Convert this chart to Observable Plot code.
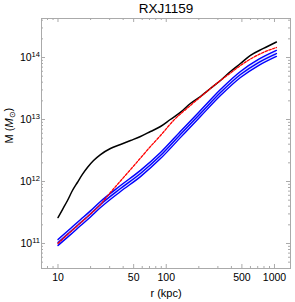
<!DOCTYPE html>
<html><head><meta charset="utf-8">
<script src="https://cdn.jsdelivr.net/npm/d3@7"></script>
<script src="https://cdn.jsdelivr.net/npm/@observablehq/plot@0.6"></script>
<style>html,body{margin:0;padding:0;background:#fff} svg{display:block}</style>
</head><body><div id="chart"></div>
<script>
const title = "RXJ1159";
const xLabel = "r (kpc)";
const yLabelPrefix = "M (";
const yLabelUnit = "M";
const yLabelSub = "⊙";
const yLabelSuffix = ")";

// total mass (black)
const blackR = [10, 11.0, 12.24, 13.6, 15.1, 16.8, 18.7, 21.3, 24.7, 30.5, 37.8, 46.8, 57.8, 71.5, 88.5, 109, 135, 167, 207, 256, 317, 392, 485, 600, 791, 1042];
const blackM = [2.62e11, 3.53e11, 4.94e11, 7.16e11, 9.64e11, 1.30e12, 1.68e12, 2.18e12, 2.72e12, 3.41e12, 3.95e12, 4.58e12, 5.32e12, 6.40e12, 7.71e12, 1.0e13, 1.30e13, 1.81e13, 2.35e13, 3.16e13, 4.26e13, 5.94e13, 8.0e13, 1.08e14, 1.40e14, 1.78e14];

// red dashed
const redR = [10, 13.05, 16.1, 19.95, 24.7, 30.5, 37.8, 46.8, 57.8, 71.5, 88.5, 116.7, 167, 207, 256, 317, 392, 485, 600, 791, 1042];
const redM = [1.0e11, 1.54e11, 2.14e11, 2.99e11, 4.26e11, 6.65e11, 1.02e12, 1.56e12, 2.39e12, 3.67e12, 5.52e12, 9.64e12, 1.68e13, 2.31e13, 3.16e13, 4.26e13, 5.62e13, 7.43e13, 9.46e13, 1.21e14, 1.45e14];

// blue band (three lines)
const blueR = [10, 13.05, 16.1, 19.95, 24.7, 37.8, 57.8, 88.5, 135, 207, 317, 485, 711, 1042];
const blueHi = [1.16e11, 1.75e11, 2.42e11, 3.36e11, 4.77e11, 8.6e11, 1.51e12, 2.93e12, 6.4e12, 1.4e13, 3.05e13, 5.96e13, 9.3e13, 1.30e14];
const blueMid = [1.04e11, 1.56e11, 2.16e11, 3.0e11, 4.26e11, 7.71e11, 1.35e12, 2.62e12, 5.73e12, 1.25e13, 2.72e13, 5.32e13, 8.30e13, 1.16e14];
const blueLo = [9.3e10, 1.39e11, 1.93e11, 2.68e11, 3.8e11, 6.9e11, 1.2e12, 2.34e12, 5.1e12, 1.12e13, 2.43e13, 4.75e13, 7.4e13, 1.04e14];

// ticks
const xDomain = [7.04, 1406];
const yDomain = [3.95e10, 4.26e14];
const xMajor = [10, 50, 100, 500, 1000];
const xMinor = [8, 9, 20, 30, 40, 60, 70, 80, 90, 200, 300, 400, 600, 700, 800, 900];
const yMajor = [1e11, 1e12, 1e13, 1e14];
const yMinor = [5e10, 6e10, 7e10, 8e10, 9e10, 2e11, 3e11, 4e11, 5e11, 6e11, 7e11, 8e11, 9e11,
  2e12, 3e12, 4e12, 5e12, 6e12, 7e12, 8e12, 9e12, 2e13, 3e13, 4e13, 5e13, 6e13, 7e13, 8e13, 9e13, 2e14, 3e14, 4e14];

const W = 295, H = 302, mL = 41, mR = 5, mT = 18, mB = 34;
const innerW = W - mL - mR, innerH = H - mT - mB;
const font = "'Liberation Sans', Arial, sans-serif";
const grey = "#aaaaaa";

const rows = (rs, ms) => rs.map((r, i) => ({r, m: ms[i]}));
const band = blueR.map((r, i) => ({r, lo: blueLo[i], hi: blueHi[i]}));

const tickMarks = (vals, len, axis) => axis === "x"
  ? [Plot.tickX(vals, {x: d => d, stroke: grey, insetTop: innerH - len}),
     Plot.tickX(vals, {x: d => d, stroke: grey, insetBottom: innerH - len})]
  : [Plot.tickY(vals, {y: d => d, stroke: grey, insetRight: innerW - len}),
     Plot.tickY(vals, {y: d => d, stroke: grey, insetLeft: innerW - len})];

const chart = Plot.plot({
  width: W, height: H,
  marginLeft: mL, marginRight: mR, marginTop: mT, marginBottom: mB,
  style: {fontFamily: font, fontSize: "10.5px", color: "#000", background: "#fff", overflow: "visible"},
  x: {type: "log", domain: xDomain, axis: null},
  y: {type: "log", domain: yDomain},
  marks: [
    Plot.areaY(band, {x: "r", y1: "lo", y2: "hi", fill: "#dfe3ff", curve: "monotone-x"}),
    Plot.line(rows(blueR, blueHi), {x: "r", y: "m", stroke: "#0000ff", strokeWidth: 1.4, curve: "monotone-x"}),
    Plot.line(rows(blueR, blueMid), {x: "r", y: "m", stroke: "#0000ff", strokeWidth: 1.4, curve: "monotone-x"}),
    Plot.line(rows(blueR, blueLo), {x: "r", y: "m", stroke: "#0000ff", strokeWidth: 1.4, curve: "monotone-x"}),
    Plot.line(rows(blackR, blackM), {x: "r", y: "m", stroke: "#000", strokeWidth: 1.5, curve: "monotone-x"}),
    Plot.line(rows(redR, redM), {x: "r", y: "m", stroke: "#ff0000", strokeWidth: 1.3, strokeDasharray: "2.5,1.5", curve: "monotone-x"}),
    Plot.frame({stroke: grey}),
    ...tickMarks(xMajor, 4, "x"),
    ...tickMarks(xMinor, 2, "x"),
    ...tickMarks(yMajor, 4, "y"),
    ...tickMarks(yMinor, 2, "y"),
    Plot.text(xMajor, {x: d => d, text: d => String(d), frameAnchor: "bottom", lineAnchor: "middle", dy: 9.5, fontSize: 10.5, fill: "#000"}),
    Plot.axisY({ticks: yMajor, tickSize: 0, tickPadding: 1.5, tickFormat: d => String(Math.round(Math.log10(d))), label: null, fontSize: 10.5}),
    Plot.text([title], {frameAnchor: "top", lineAnchor: "middle", dy: -9.5, fontSize: 13.5, fill: "#000"}),
    Plot.text([xLabel], {frameAnchor: "bottom", lineAnchor: "middle", dy: 25, fontSize: 11, fill: "#000"}),
    Plot.text([yLabelPrefix], {frameAnchor: "left", lineAnchor: "middle", dx: -32, rotate: -90, fontSize: 11, fill: "#000"})
  ]
});
document.getElementById("chart").appendChild(chart);

const svg = d3.select(chart);
svg.selectAll('g[aria-label="y-axis tick label"] text').each(function () {
  const t = d3.select(this);
  const e = t.text();
  t.text("");
  t.append("tspan").text("10");
  t.append("tspan").attr("dy", "-0.45em").attr("font-size", "0.72em").text(e);
});
svg.selectAll("text").filter(function () { return this.textContent === yLabelPrefix; }).each(function () {
  const t = d3.select(this);
  t.text("");
  t.append("tspan").text(yLabelPrefix);
  t.append("tspan").attr("font-style", "italic").text(yLabelUnit);
  t.append("tspan").attr("dy", "0.3em").attr("font-size", "0.7em").text(yLabelSub);
  t.append("tspan").attr("dy", "-0.3em").text(yLabelSuffix);
});
</script>
</body></html>
